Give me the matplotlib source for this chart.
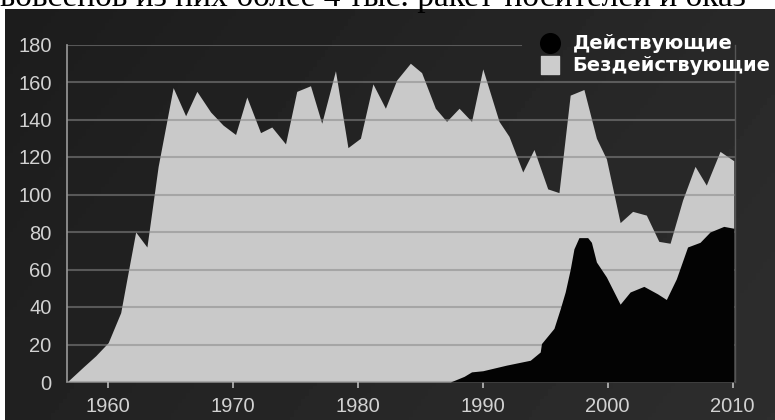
import numpy as np
import matplotlib
matplotlib.use("Agg")
import matplotlib.pyplot as plt

# ---- данные ----
inactive_years = [1956.7, 1958, 1959, 1960, 1961, 1961.5, 1962.2, 1963.1, 1964, 1965.2,
                  1966.2, 1967.1, 1968.2, 1969.2, 1970.2, 1971.1, 1972.2, 1973.1, 1974.2,
                  1975.1, 1976.2, 1977.1, 1978.2, 1979.2, 1980.2, 1981.2, 1982.2, 1983.1,
                  1984.2, 1985.1, 1986.2, 1987.1, 1988.1, 1989.1, 1990.0, 1991.3, 1992.1,
                  1993.2, 1994.1, 1995.2, 1996.1, 1997.0, 1998.1, 1999.1, 1999.9, 2001.0,
                  2002.0, 2003.1, 2004.1, 2005.0, 2006.0, 2007.0, 2007.9, 2009.0, 2010.1]
inactive = [0, 8, 14, 21, 37, 55, 80, 72, 115, 157,
            142, 155, 144, 137, 132, 152, 133, 136, 127,
            155, 158, 138, 166, 125, 130, 159, 146, 161,
            170, 165, 146, 139, 146, 139, 167, 139, 131,
            112, 124, 103, 101, 153, 156, 130, 119, 85,
            91, 89, 75, 74, 97, 115, 105, 123, 118]

active_years = [1987.4, 1988.5, 1989.1, 1990.0, 1991.9, 1993.8, 1994.6, 1994.7, 1995.7,
                1996.2, 1996.6, 1997.0, 1997.3, 1997.7, 1998.4, 1998.7, 1999.1, 1999.9,
                2001.0, 2001.8, 2002.9, 2004.0, 2004.7, 2005.5, 2006.4, 2007.4, 2008.2,
                2009.3, 2010.1]
active = [0, 3, 5.4, 6, 9, 11.6, 16, 20.5, 28.6,
          39, 48, 60, 71, 77, 77, 74.5, 64, 56,
          41.5, 48, 51, 47, 44, 55, 72, 74.5, 80,
          83, 82]

yticks = [0, 20, 40, 60, 80, 100, 120, 140, 160, 180]
xticks = [1960, 1970, 1980, 1990, 2000, 2010]
legend_labels = ['Действующие', 'Бездействующие']

plt.rcParams['font.family'] = ['Liberation Sans', 'DejaVu Sans']

fig = plt.figure(figsize=(7.75, 4.2), dpi=100)
fig.patch.set_facecolor('white')

# тёмный фон-панель с лёгким градиентом
bg = fig.add_axes([5/775, 0, 770/775, 1 - 9/420])
gx = np.linspace(0, 1, 200)
gy = np.linspace(0, 1, 120)
X, Y = np.meshgrid(gx, gy)
grad = 0.11 + 0.05 * X + 0.02 * Y
bg.imshow(grad, cmap='gray', vmin=0, vmax=1, aspect='auto', extent=[0, 1, 0, 1])
bg.axis('off')

# верхняя обрезанная строка текста документа
fig.text(0.0, 1 - 6/420, 'ьовсенов из них более 4 тыс. ракет-носителей и оказ',
         family=['Liberation Serif', 'DejaVu Serif'], fontsize=24, color='black',
         va='baseline', ha='left')

ax = fig.add_axes([67/775, 1 - 382/420, (735 - 67)/775, (382 - 44.5)/420])
ax.set_facecolor('none')

ax.fill_between(inactive_years, inactive, color='#c9c9c9', lw=0, zorder=1)
for t in yticks:
    # верхняя линия уходит под легенду
    ax.axhline(t, xmax=0.68 if t == 180 else 1, color='#888888', alpha=0.55,
               lw=1.5, zorder=2)
ax.fill_between(active_years, active, color='#030303', lw=0, zorder=3)

ax.set_xlim(1956.7, 2010.2)
ax.set_ylim(0, 180)
ax.set_yticks(yticks)
ax.set_xticks(xticks)
ax.tick_params(axis='y', length=0, pad=11, labelsize=14.5, labelcolor='#d2d2d2')
ax.tick_params(axis='x', length=4, width=1.2, color='#bbbbbb', pad=7,
               labelsize=14.5, labelcolor='#d2d2d2')

for s in ['top', 'bottom']:
    ax.spines[s].set_visible(False)
ax.spines['left'].set_color('#9a9a9a')
ax.spines['left'].set_linewidth(1.2)
ax.spines['right'].set_color('#555555')
ax.spines['right'].set_linewidth(1.0)

# легенда
ax.scatter([0.723], [1.004], s=200, marker='o', color='#000000', transform=ax.transAxes,
           clip_on=False, zorder=5)
ax.scatter([0.723], [0.939], s=160, marker='s', color='#cccccc', transform=ax.transAxes,
           clip_on=False, zorder=5)
for yy, lab in zip([1.004, 0.939], legend_labels):
    ax.text(0.757, yy, lab, transform=ax.transAxes, color='white',
            family=['DejaVu Sans'], fontsize=14, fontweight='bold',
            va='center', ha='left', zorder=5)

fig.savefig('out.png', dpi=100)
